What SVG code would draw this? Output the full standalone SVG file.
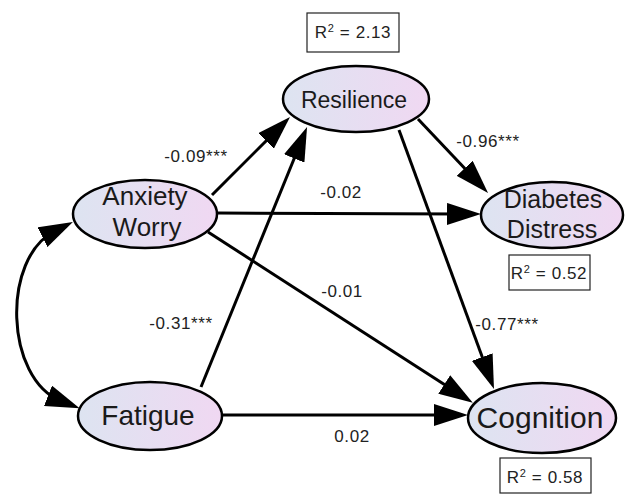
<svg xmlns="http://www.w3.org/2000/svg" width="626" height="494" viewBox="0 0 626 494">
<style>
.node{stroke:#000;stroke-width:2.5;fill:url(#g)}
.nt{font-family:"Liberation Sans",Arial,sans-serif;fill:#1a1a1a;text-anchor:middle}
.lbl{font-family:"Liberation Sans",Arial,sans-serif;font-size:17px;letter-spacing:0.6px;fill:#222;text-anchor:middle}
.box{fill:#fff;stroke:#222;stroke-width:1.2}
.edge{fill:none;stroke:#000;stroke-width:3}
</style>
<defs>
<linearGradient id="g" x1="0" y1="0" x2="1" y2="0">
<stop offset="0" stop-color="#dde4f1"/>
<stop offset="1" stop-color="#f0d8f2"/>
</linearGradient>
<marker id="ah" markerUnits="userSpaceOnUse" viewBox="0 0 34 22" markerWidth="34" markerHeight="22" refX="14" refY="11" orient="auto-start-reverse">
<path d="M0,0 L34,11 L0,22 z" fill="#000"/>
</marker>
</defs>
<rect width="626" height="494" fill="#fff"/>
<g id="connectors">
<line class="edge" x1="212" y1="195" x2="275.9" y2="131.1" marker-end="url(#ah)"/>
<line class="edge" x1="201" y1="387" x2="299.5" y2="145.5" marker-end="url(#ah)"/>
<line class="edge" x1="218" y1="213" x2="461" y2="214" marker-end="url(#ah)"/>
<line class="edge" x1="418" y1="119" x2="474.3" y2="178.5" marker-end="url(#ah)"/>
<line class="edge" x1="399" y1="130" x2="487.1" y2="370.2" marker-end="url(#ah)"/>
<line class="edge" x1="208" y1="232" x2="456" y2="392" marker-end="url(#ah)"/>
<line class="edge" x1="222" y1="415" x2="448" y2="415" marker-end="url(#ah)"/>
<path class="edge" d="M55,231 C1,258 5,379 61,401" marker-start="url(#ah)" marker-end="url(#ah)"/>
</g>
<g id="labels">
<text class="lbl" x="196" y="162">-0.09***</text>
<text class="lbl" x="341" y="198">-0.02</text>
<text class="lbl" x="488" y="147">-0.96***</text>
<text class="lbl" x="342" y="297">-0.01</text>
<text class="lbl" x="181" y="329">-0.31***</text>
<text class="lbl" x="507" y="330">-0.77***</text>
<text class="lbl" x="352" y="442">0.02</text>
</g>
<g id="r2-resilience">
<rect class="box" x="307" y="13" width="92" height="39"/>
<text class="lbl" x="353" y="38">R<tspan font-size="11" dy="-6">2</tspan><tspan dy="6"> = 2.13</tspan></text>
</g>
<g id="r2-diabetes">
<rect class="box" x="509" y="255" width="81" height="35"/>
<text class="lbl" x="549" y="279">R<tspan font-size="11" dy="-6">2</tspan><tspan dy="6"> = 0.52</tspan></text>
</g>
<g id="r2-cognition">
<rect class="box" x="500" y="458" width="91" height="35"/>
<text class="lbl" x="545" y="483">R<tspan font-size="11" dy="-6">2</tspan><tspan dy="6"> = 0.58</tspan></text>
</g>
<g id="resilience">
<ellipse class="node" cx="356" cy="99" rx="73" ry="33"/>
<text class="nt" x="354" y="108" font-size="23">Resilience</text>
</g>
<g id="anxiety-worry">
<ellipse class="node" cx="145" cy="214" rx="72" ry="34"/>
<text class="nt" x="145" y="205" font-size="26">Anxiety</text>
<text class="nt" x="147" y="236" font-size="26">Worry</text>
</g>
<g id="diabetes-distress">
<ellipse class="node" cx="552" cy="215" rx="71" ry="33"/>
<text class="nt" x="553" y="208" font-size="25">Diabetes</text>
<text class="nt" x="552" y="238" font-size="25">Distress</text>
</g>
<g id="fatigue">
<ellipse class="node" cx="150" cy="416" rx="72" ry="34"/>
<text class="nt" x="148" y="425" font-size="28">Fatigue</text>
</g>
<g id="cognition">
<ellipse class="node" cx="542" cy="418" rx="74" ry="35"/>
<text class="nt" x="540" y="428" font-size="30">Cognition</text>
</g>
</svg>
